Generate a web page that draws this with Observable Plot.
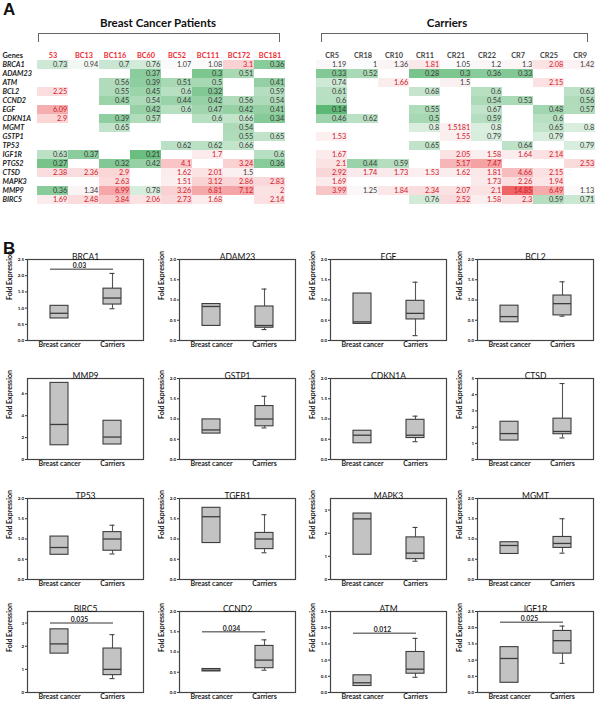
<!DOCTYPE html>
<html><head><meta charset="utf-8">
<script src="https://cdn.jsdelivr.net/npm/d3@7"></script>
<script src="https://cdn.jsdelivr.net/npm/@observablehq/plot@0.6"></script>
<style>
body{margin:0;background:#fff;}
#root{position:relative;width:600px;height:704px;overflow:hidden;font-family:Lato,"Open Sans",sans-serif;color:#111;}
.plabel{font:bold 17px "Liberation Sans",Arial,sans-serif;line-height:1;}
.gtitle{font-weight:bold;font-size:11.5px;white-space:nowrap;transform:translate(-50%,-50%);line-height:1;}
.bracket{border:1.3px solid #666;border-bottom:none;height:9px;box-sizing:border-box;}
svg{overflow:visible;}
</style></head><body><div id="root"></div>
<script>
// ---------- Part A data ----------
const bcCols = ["53","BC13","BC116","BC60","BC52","BC111","BC172","BC181"];
const crCols = ["CR5","CR18","CR10","CR11","CR21","CR22","CR7","CR25","CR9"];
const genes = ["BRCA1","ADAM23","ATM","BCL2","CCND2","EGF","CDKN1A","MGMT","GSTP1","TP53","IGF1R","PTGS2","CTSD","MAPK3","MMP9","BIRC5"];
const bcValues = [
  [0.73,0.94,0.7,0.76,1.07,1.08,3.1,0.36],
  [null,null,null,0.37,null,0.3,0.51,null],
  [null,null,0.56,0.39,0.51,0.5,null,0.41],
  [2.25,null,0.55,0.45,0.6,0.32,null,0.59],
  [null,null,0.45,0.54,0.44,0.42,0.56,0.54],
  [6.09,null,null,0.42,0.6,0.47,0.42,0.41],
  [2.9,null,0.39,0.57,null,0.6,0.66,0.34],
  [null,null,0.65,null,null,null,0.54,null],
  [null,null,null,null,null,null,0.55,0.65],
  [null,null,null,null,0.62,0.62,0.66,null],
  [0.63,0.37,null,0.21,null,1.7,null,0.6],
  [0.27,null,0.32,0.42,4.1,null,3.24,0.36],
  [2.38,2.36,2.9,null,1.62,2.01,1.5,null],
  [null,null,2.63,null,1.51,3.12,2.86,2.83],
  [0.36,1.34,6.99,0.78,3.26,6.81,7.12,2],
  [1.69,2.48,3.84,2.06,2.73,1.68,null,2.14]
];
const crValues = [
  [1.19,1,1.36,1.81,1.05,1.2,1.3,2.08,1.42],
  [0.33,0.52,null,0.28,0.3,0.36,0.33,null,null],
  [0.74,null,1.66,null,1.5,null,null,2.15,null],
  [0.61,null,null,0.68,null,0.6,null,null,0.63],
  [0.6,null,null,null,null,0.54,0.53,null,0.56],
  [0.14,null,null,0.55,null,0.67,null,0.48,0.57],
  [0.46,0.62,null,0.5,null,0.59,null,0.6,null],
  [null,null,null,0.8,1.5181,0.8,null,0.65,0.8],
  [1.53,null,null,null,1.55,0.79,null,0.79,null],
  [null,null,null,0.65,null,null,0.64,null,0.79],
  [1.67,null,null,null,2.05,1.58,1.64,2.14,null],
  [2.1,0.44,0.59,null,5.17,7.47,null,null,2.53],
  [2.92,1.74,1.73,1.53,1.62,1.81,4.66,2.15,null],
  [1.69,null,null,null,null,1.73,2.26,1.94,null],
  [3.99,1.25,1.84,2.34,2.07,2.1,14.85,6.49,1.13],
  [null,null,null,0.76,2.52,1.58,2.3,0.59,0.71]
];
const groupTitles = ["Breast Cancer Patients","Carriers"];

// ---------- Part B data (box summaries: [low whisker, Q1, median, Q3, high whisker]) ----------
const panelGenes = ["BRCA1","ADAM23","EGF","BCL2","MMP9","GSTP1","CDKN1A","CTSD","TP53","TGFB1","MAPK3","MGMT","BIRC5","CCND2","ATM","IGF1R"];
const groups = ["Breast cancer","Carriers"];
const bcBox = [
  [null,0.68,0.84,1.07,null],
  [null,0.36,0.84,0.9,null],
  [null,0.41,0.46,1.16,null],
  [null,0.45,0.59,0.86,null],
  [null,1.3,3.2,7.0,null],
  [null,0.64,0.73,0.99,null],
  [null,0.4,0.6,0.71,null],
  [null,1.17,1.6,2.33,null],
  [null,0.61,0.79,1.06,null],
  [null,0.9,1.55,1.77,null],
  [null,1.07,2.62,2.85,null],
  [null,0.63,0.84,0.92,null],
  [null,1.68,2.1,2.73,null],
  [null,0.52,0.55,0.58,null],
  [null,0.2,0.3,0.53,null],
  [null,0.3,1.05,1.4,null]
];
const crBox = [
  [0.98,1.11,1.31,1.6,2.07],
  [0.27,0.315,0.37,0.84,1.27],
  [0.12,0.52,0.67,0.98,1.44],
  [0.6,0.62,0.91,1.11,1.45],
  [null,1.37,2.05,3.54,null],
  [0.78,0.82,1.0,1.32,1.56],
  [0.44,0.53,0.6,0.98,1.07],
  [1.33,1.56,1.73,2.52,4.69],
  [0.63,0.71,1.0,1.17,1.34],
  [0.66,0.75,1.0,1.15,1.6],
  [0.79,0.88,1.14,1.82,2.25],
  [0.65,0.78,0.89,1.05,1.5],
  [0.6,0.75,1.0,1.9,2.5],
  [0.55,0.6,0.8,1.15,1.3],
  [0.47,0.58,0.72,1.25,1.67],
  [0.9,1.2,1.6,1.9,2.05]
];
const yMax = [2.5,2,2,2,7.4,2,2,5,2,2,3.5,2,3.5,2,2.5,2.5];
const yTicks = [
  [0,0.5,1,1.5,2,2.5],[0,0.5,1,1.5,2],[0,0.5,1,1.5,2],[0,0.5,1,1.5,2],
  [0,2,4,6],[0,0.5,1,1.5,2],[0,0.5,1,1.5,2],[0,1,2,3,4,5],
  [0,0.5,1,1.5,2],[0,0.5,1,1.5,2],[0,1,2,3],[0,0.5,1,1.5,2],
  [0,1,2,3],[0,0.5,1,1.5,2],[0,0.5,1,1.5,2,2.5],[0,0.5,1,1.5,2,2.5]
];
const pLabels = ["0.03",null,null,null,null,null,null,null,null,null,null,null,"0.035","0.034","0.012","0.025"];
const pLevels = [2.2,null,null,null,null,null,null,null,null,null,null,null,3.0,1.5,1.83,2.17];

// ---------- build ----------
const root = document.getElementById("root");
function place(el, left, top){ el.style.position="absolute"; el.style.left=left+"px"; el.style.top=top+"px"; root.appendChild(el); return el; }
function div(cls, text){ const d=document.createElement("div"); d.className=cls; if(text!=null) d.textContent=text; return d; }

place(div("plabel","A"), 3, 1);
place(div("plabel","B"), 3, 240);
place(div("gtitle", groupTitles[0]), 158, 23);
place(div("gtitle", groupTitles[1]), 447, 23);
const b1 = place(div("bracket"), 38, 33); b1.style.width = "242px";
const b2 = place(div("bracket"), 321, 33); b2.style.width = "267px";

// heatmap
const cells = [];
genes.forEach((g,i)=>{
  bcCols.forEach((c,j)=>{ const v=bcValues[i][j]; if(v!=null) cells.push({gene:g,col:c,value:v}); });
  crCols.forEach((c,j)=>{ const v=crValues[i][j]; if(v!=null) cells.push({gene:g,col:c,value:v}); });
});
const xDomain = [...bcCols, " ", ...crCols];
const table = Plot.plot({
  width:600, height:214, marginTop:44.2, marginBottom:4.05, marginLeft:32, marginRight:0,
  x:{domain:xDomain, padding:0, axis:null},
  y:{domain:["Genes",...genes], padding:0, axis:null},
  color:{type:"linear", domain:[0.14,0.5,1,2,5,14.85], range:["#5cb874","#a6d8b3","#fbfcfd","#fbe3e4","#f6b7b9","#ef6466"], interpolate:"rgb"},
  style:{fontFamily:"Lato, 'Open Sans', sans-serif", fontSize:"7.3px", background:"transparent", overflow:"visible"},
  marks:[
    Plot.cell(cells,{x:"col",y:"gene",fill:"value",inset:0}),
    Plot.text(cells.filter(d=>d.value<=1.5),{x:"col",y:"gene",text:d=>String(d.value),textAnchor:"end",dx:14.3,fill:"#3a3a3a"}),
    Plot.text(cells.filter(d=>d.value>1.5),{x:"col",y:"gene",text:d=>String(d.value),textAnchor:"end",dx:14.3,fill:"#d0202a"}),
    Plot.text(bcCols,{x:d=>d,y:()=>"Genes",text:d=>d,fill:"#ee2a30",fontWeight:"bold"}),
    Plot.text(crCols,{x:d=>d,y:()=>"Genes",text:d=>d,fill:"#444",fontWeight:"bold"}),
    Plot.text(["Genes"],{y:d=>d,text:d=>d,frameAnchor:"left",textAnchor:"start",dx:-30,fontWeight:"bold",fill:"#222"}),
    Plot.text(genes,{y:d=>d,text:d=>d,frameAnchor:"left",textAnchor:"start",dx:-30,fontWeight:"bold",fontStyle:"italic",fill:"#222"})
  ]
});
place(table, 0, 0);

// box plots
const colLeft = [0,152,303,450];
const rowTop = [245,364,484,597];
panelGenes.forEach((gene,i)=>{
  const rows = groups.map((g,k)=>{ const s=(k===0?bcBox:crBox)[i]; return {group:g, lo:s[0], q1:s[1], med:s[2], q3:s[3], hi:s[4]}; });
  const wh = rows.filter(d=>d.hi!=null);
  const ticks = yTicks[i];
  const intTicks = ticks.every(t=>Number.isInteger(t)) && yMax[i]>2.5;
  const fmt = intTicks ? d3.format("d") : d3.format(".1f");
  const marks = [
    Plot.ruleX(wh,{x:"group",y1:"q3",y2:"hi",stroke:"#555",strokeWidth:1.1}),
    Plot.ruleX(wh,{x:"group",y1:"lo",y2:"q1",stroke:"#555",strokeWidth:1.1}),
    Plot.tickY(wh,{x:"group",y:"hi",insetLeft:19.5,insetRight:19.5,stroke:"#444",strokeWidth:1.1}),
    Plot.tickY(wh,{x:"group",y:"lo",insetLeft:19.5,insetRight:19.5,stroke:"#444",strokeWidth:1.1}),
    Plot.barY(rows,{x:"group",y1:"q1",y2:"q3",fill:"#c3c3c3",stroke:"#3c3c3c",strokeWidth:1.1,insetLeft:13,insetRight:13}),
    Plot.tickY(rows,{x:"group",y:"med",stroke:"#3c3c3c",strokeWidth:1.3,insetLeft:13,insetRight:13}),
    Plot.frame({stroke:"#444",strokeWidth:1.2}),
    Plot.axisY({ticks, tickFormat:fmt, tickSize:2, tickPadding:1.5, fontSize:4.5, fontWeight:"bold", label:null, stroke:"#333"}),
    Plot.axisX({tickSize:0, tickPadding:2, fontSize:7, fontWeight:"bold", label:null, fill:"#222"}),
    Plot.text([gene],{text:d=>d,frameAnchor:"top",dy:-6,fontSize:8.5,fill:"#111"}),
    Plot.text(["Fold Expression"],{text:d=>d,frameAnchor:"left",rotate:-90,dx:-18,fontSize:7,fontWeight:"bold",fill:"#111"})
  ];
  if (pLabels[i]!=null){
    const p=[{y:pLevels[i],label:pLabels[i]}];
    marks.push(Plot.ruleY(p,{y:"y",x1:()=>groups[0],x2:()=>groups[1],insetLeft:13,insetRight:21,stroke:"#777",strokeWidth:1.5}));
    marks.push(Plot.text(p,{x:()=>groups[0],y:"y",text:"label",dx:20,dy:-3.2,fontSize:6.8,fontWeight:"bold",fill:"#222"}));
  }
  const chart = Plot.plot({
    width:147, height:107, marginLeft:27, marginRight:4, marginTop:14, marginBottom:12,
    x:{domain:groups, padding:0.17, axis:null},
    y:{domain:[0,yMax[i]], axis:null},
    style:{fontFamily:"Lato, 'Open Sans', sans-serif", background:"transparent", overflow:"visible"},
    marks
  });
  place(chart, colLeft[i%4], rowTop[Math.floor(i/4)]);
});
</script></body></html>
